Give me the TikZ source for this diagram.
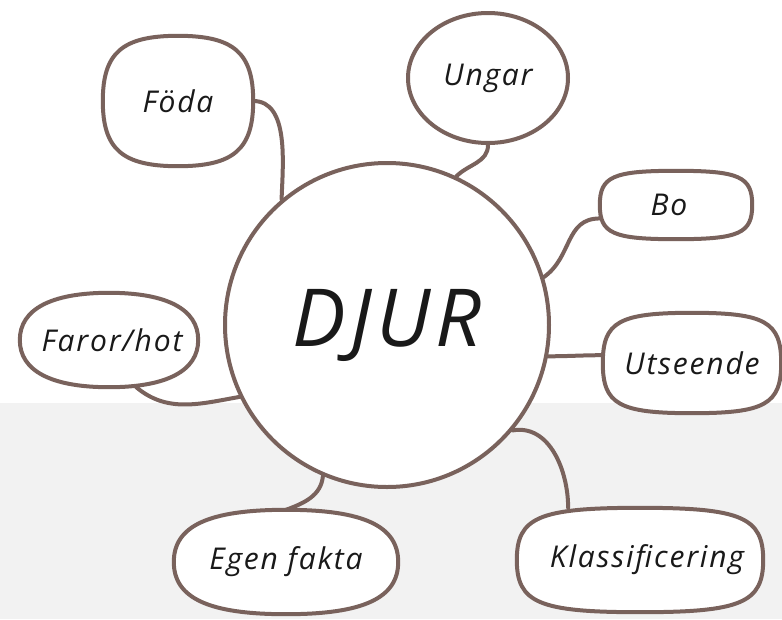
\documentclass[tikz,border=0pt]{standalone}
\usepackage{fontspec}
\setmainfont{Open Sans}
\newfontfamily\hand{Open Sans}[LetterSpace=6]
\usetikzlibrary{shapes.geometric,calc}
\pgfdeclarelayer{back}
\pgfdeclarelayer{mid}
\pgfsetlayers{back,mid,main}
\definecolor{strk}{RGB}{121,98,92}
\definecolor{bggray}{RGB}{242,242,242}
\definecolor{ink}{RGB}{25,25,25}
\tikzset{
  topic/.style={text=ink, align=center,
    font=\hand\itshape\fontsize{30}{34}\selectfont, inner sep=0pt},
  outline/.style={draw=strk, line width=4pt, fill=white, line join=round},
  conn/.style={draw=strk, line width=4pt, line cap=round},
}
% squircle-like outline round a rectangular node: #1 node name, #2 corner fullness
\newcommand\sqoutline[2]{%
  \path[outline] (#1.north)
    .. controls ($(#1.north)!#2!(#1.north east)$) and ($(#1.east)!#2!(#1.north east)$) .. (#1.east)
    .. controls ($(#1.east)!#2!(#1.south east)$) and ($(#1.south)!#2!(#1.south east)$) .. (#1.south)
    .. controls ($(#1.south)!#2!(#1.south west)$) and ($(#1.west)!#2!(#1.south west)$) .. (#1.west)
    .. controls ($(#1.west)!#2!(#1.north west)$) and ($(#1.north)!#2!(#1.north west)$) .. (#1.north)
    -- cycle;}
\begin{document}
\begin{tikzpicture}[x=1pt,y=-1pt]
\useasboundingbox (0,0) rectangle (782,619);
\begin{pgfonlayer}{back}
\fill[white] (0,0) rectangle (782,403);
\fill[bggray] (0,403) rectangle (782,619);
\end{pgfonlayer}

% central
\node[topic, outline, circle, minimum size=324pt, font=\hand\itshape\fontsize{80}{90}\selectfont] (djur) at (387,325) {\raisebox{14pt}{DJUR}};

% topics
\node[topic, rectangle, minimum width=150pt, minimum height=130pt] (foda) at (178,101) {Föda};
\node[topic, outline, ellipse, minimum width=160pt, minimum height=130pt] (ungar) at (488,78) {\raisebox{6pt}{Ungar}};
\node[topic, rectangle, minimum width=152pt, minimum height=68pt] (bo) at (676,205) {\hspace*{-14pt}Bo};
\node[topic, rectangle, minimum width=178pt, minimum height=100pt] (uts) at (692,363) {Utseende};
\node[topic, rectangle, minimum width=246pt, minimum height=104pt] (klass) at (640,560) {\hspace*{14pt}Klassificering};
\node[topic, rectangle, minimum width=224pt, minimum height=104pt] (egen) at (286,562) {Egen fakta};
\node[topic, rectangle, minimum width=178pt, minimum height=94pt] (faror) at (109,340) {\hspace*{6pt}Faror/hot};

\begin{pgfonlayer}{mid}
\sqoutline{foda}{0.74}
\sqoutline{bo}{0.83}
\sqoutline{uts}{0.82}
\sqoutline{klass}{0.82}
\sqoutline{egen}{0.69}
\sqoutline{faror}{0.65}
\end{pgfonlayer}

% connectors
\begin{pgfonlayer}{back}
\draw[conn] (foda.east) to[out=0,in=88,looseness=0.9] (djur.130);
\draw[conn] (ungar.south) to[out=-90,in=45] (djur.65);
\draw[conn] (bo.190) to[out=180,in=35,looseness=1.1] (djur.17);
\draw[conn] (djur.-11) to[out=0,in=180] (uts.175);
\draw[conn] (djur.-40) to[out=10,in=90] (klass.144);
\draw[conn] (djur.-113) to[out=-95,in=20] (egen.north);
\draw[conn] (faror.-60) to[out=-40,in=190] (djur.206);
\end{pgfonlayer}
\end{tikzpicture}
\end{document}
